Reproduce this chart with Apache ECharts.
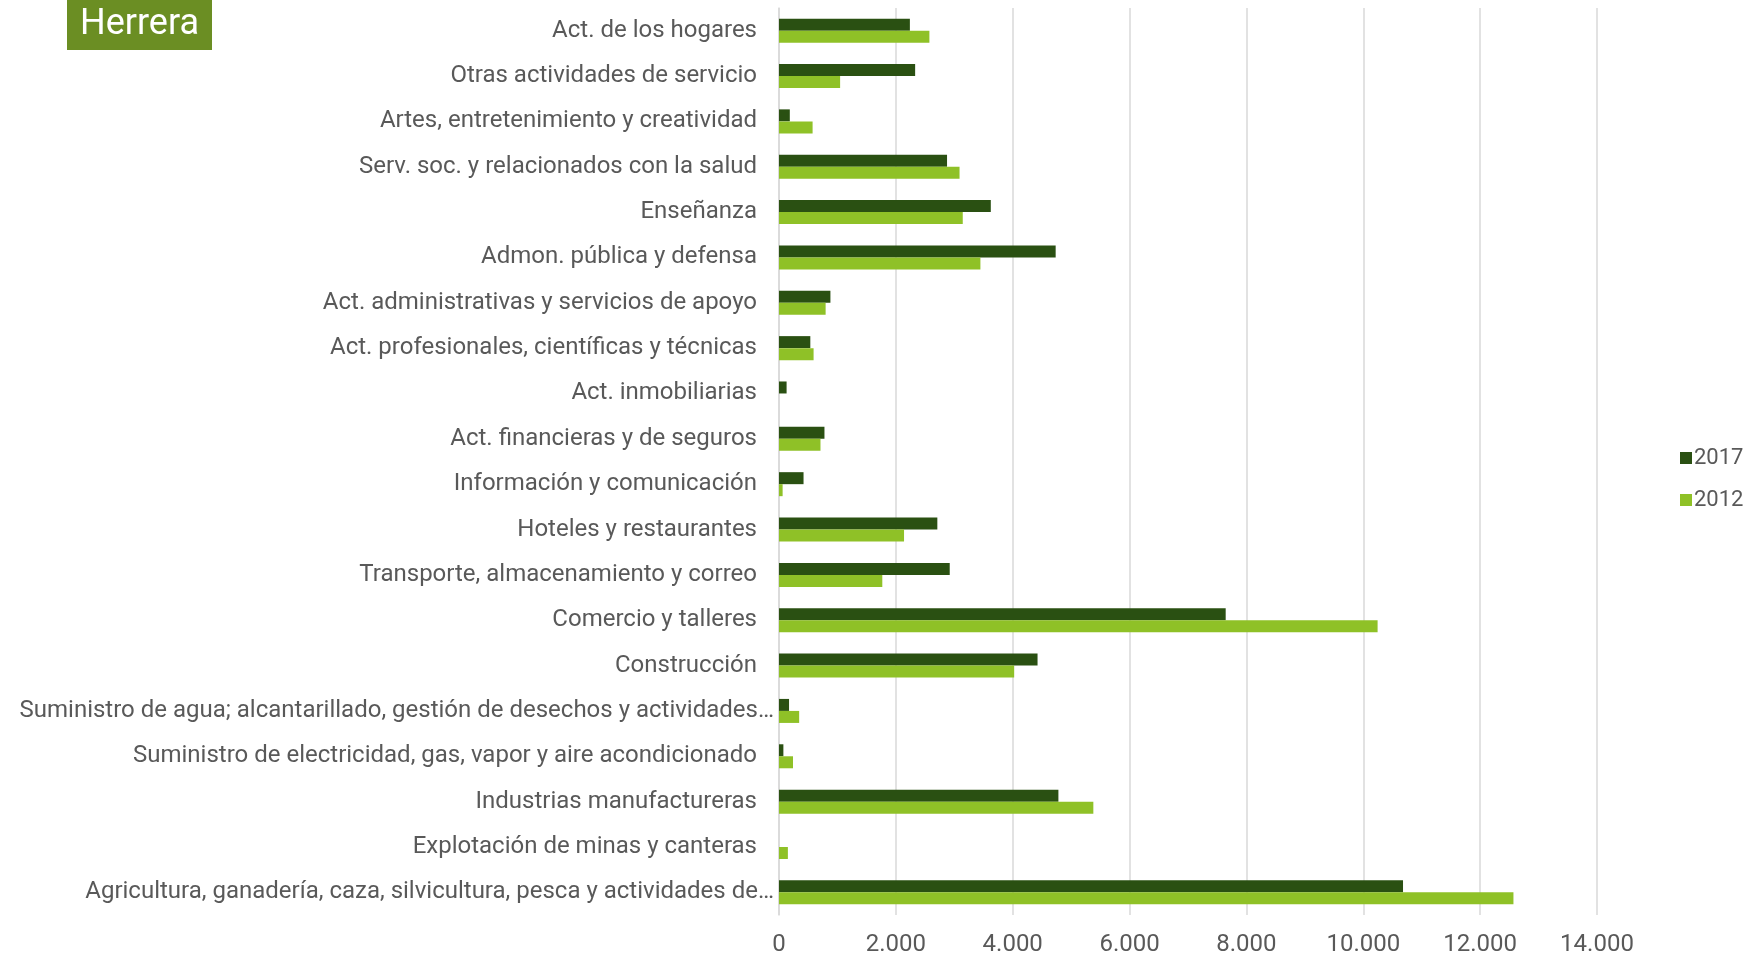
<!DOCTYPE html>
<html>
<head>
<meta charset="utf-8">
<script src="https://cdn.jsdelivr.net/npm/echarts@6/dist/echarts.min.js"></script>
<style>
html,body{margin:0;padding:0;background:#fff;}
#chart{width:1745px;height:957px;}
</style>
</head>
<body>
<div id="chart"></div>
<script>
const categories = [
  "Act. de los hogares",
  "Otras actividades de servicio",
  "Artes, entretenimiento y creatividad",
  "Serv. soc. y relacionados con la salud",
  "Enseñanza",
  "Admon. pública y defensa",
  "Act. administrativas y servicios de apoyo",
  "Act. profesionales, científicas y técnicas",
  "Act. inmobiliarias",
  "Act. financieras y de seguros",
  "Información y comunicación",
  "Hoteles y restaurantes",
  "Transporte, almacenamiento y correo",
  "Comercio y talleres",
  "Construcción",
  "Suministro de agua; alcantarillado, gestión de desechos y actividades…",
  "Suministro de electricidad, gas, vapor y aire acondicionado",
  "Industrias manufactureras",
  "Explotación de minas y canteras",
  "Agricultura, ganadería, caza, silvicultura, pesca y actividades de…"
];
const values2017 = [2240, 2330, 185, 2876, 3625, 4735, 880, 536, 130, 778, 420, 2710, 2922, 7645, 4425, 172, 75, 4782, 0, 10680];
const values2012 = [2574, 1046, 575, 3090, 3145, 3447, 798, 592, 0, 710, 62, 2140, 1768, 10245, 4025, 345, 240, 5380, 152, 12570];
const seriesNames = ["2017", "2012"];
const titleText = "Herrera";

const FONT = "Roboto";
const catData = categories.map(c => c.endsWith('…')
  ? {value: c, textStyle: {padding: [0, -17, 0, 0]}}
  : c);
const chart = echarts.init(document.getElementById('chart'), null, {renderer: 'canvas'});
chart.setOption({
  backgroundColor: '#ffffff',
  animation: false,
  title: {
    text: titleText,
    left: 67, top: 0,
    backgroundColor: '#6b8e23',
    padding: [7, 13, 7, 13],
    textStyle: {color: '#ffffff', fontFamily: FONT, fontSize: 36, fontWeight: 'normal'}
  },
  legend: {
    orient: 'vertical',
    left: 1675, top: 442,
    itemWidth: 12, itemHeight: 12, itemGap: 20,
    icon: 'rect',
    data: seriesNames,
    textStyle: {color: '#595959', fontFamily: FONT, fontSize: 22, padding: [0, 0, 0, -3]}
  },
  grid: {left: 779, right: 148, top: 8, bottom: 39, containLabel: false},
  xAxis: {
    type: 'value', min: 0, max: 14000, interval: 2000,
    axisLine: {show: false}, axisTick: {show: false},
    splitLine: {lineStyle: {color: '#d9d9d9', width: 1.5}},
    axisLabel: {
      color: '#595959', fontFamily: FONT, fontSize: 24, margin: 18,
      formatter: v => v === 0 ? '0' : String(v).replace(/\B(?=(\d{3})+(?!\d))/g, '.')
    }
  },
  yAxis: {
    type: 'category', data: catData, inverse: true,
    axisLine: {show: true, lineStyle: {color: '#d9d9d9', width: 1.5}},
    axisTick: {show: false},
    axisLabel: {color: '#595959', fontFamily: FONT, fontSize: 24, margin: 22}
  },
  series: [
    {name: seriesNames[0], type: 'bar', data: values2017, barWidth: 12, barGap: '0%',
     itemStyle: {color: '#2a5012'}},
    {name: seriesNames[1], type: 'bar', data: values2012, barWidth: 12, barGap: '0%',
     itemStyle: {color: '#8fc127'}}
  ]
});
</script>
</body>
</html>
